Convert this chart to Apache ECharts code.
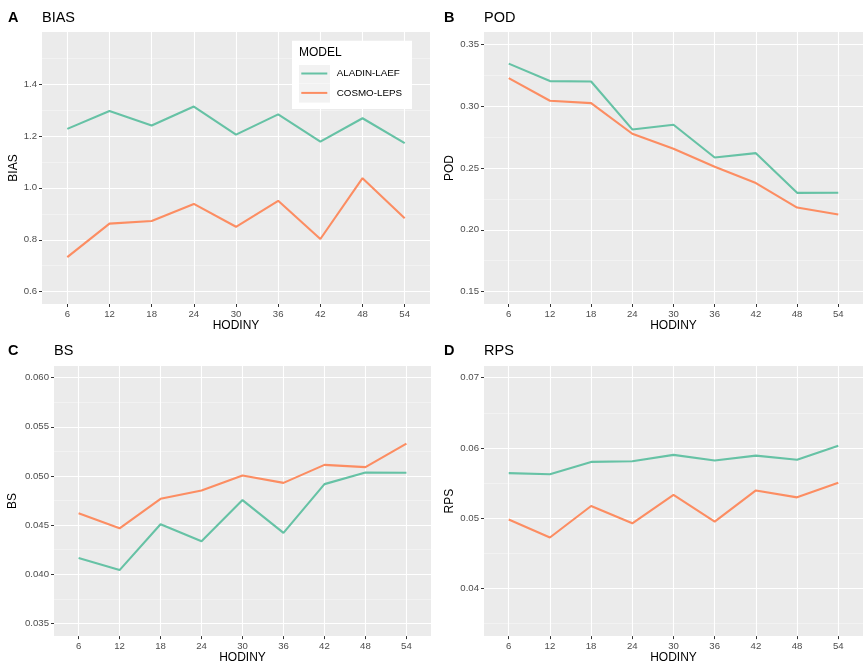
<!DOCTYPE html>
<html><head><meta charset="utf-8">
<script src="https://cdn.jsdelivr.net/npm/echarts@6/dist/echarts.min.js"></script>
<style>html,body{margin:0;padding:0;background:#fff}#c{width:863px;height:665px}</style>
</head><body><div id="c"></div>
<script>
// ---- data ----
const hours = [6, 12, 18, 24, 30, 36, 42, 48, 54];
const models = ['ALADIN-LAEF', 'COSMO-LEPS'];

const biasAladin = [1.227, 1.296, 1.240, 1.313, 1.205, 1.283, 1.178, 1.268, 1.172];
const biasCosmo  = [0.733, 0.862, 0.872, 0.938, 0.850, 0.950, 0.803, 1.037, 0.883];

const podAladin = [0.3344, 0.3203, 0.3200, 0.2812, 0.2850, 0.2585, 0.2620, 0.2299, 0.2300];
const podCosmo  = [0.3227, 0.3044, 0.3025, 0.2777, 0.2655, 0.2510, 0.2378, 0.2180, 0.2124];

const bsAladin = [0.04165, 0.04043, 0.04509, 0.04337, 0.04755, 0.04421, 0.04917, 0.05035, 0.05032];
const bsCosmo  = [0.04620, 0.04468, 0.04768, 0.04853, 0.05005, 0.04930, 0.05113, 0.05090, 0.05329];

const rpsAladin = [0.0564, 0.05625, 0.0580, 0.0581, 0.0590, 0.0582, 0.0589, 0.0583, 0.0603];
const rpsCosmo  = [0.0498, 0.04723, 0.05172, 0.04926, 0.05332, 0.0495, 0.05394, 0.05295, 0.05503];

const biasTicks = [0.6, 0.8, 1.0, 1.2, 1.4];
const biasMinor = [0.7, 0.9, 1.1, 1.3, 1.5];
const podTicks = [0.15, 0.20, 0.25, 0.30, 0.35];
const podMinor = [0.175, 0.225, 0.275, 0.325];
const bsTicks = [0.035, 0.040, 0.045, 0.050, 0.055, 0.060];
const bsMinor = [0.0375, 0.0425, 0.0475, 0.0525, 0.0575];
const rpsTicks = [0.04, 0.05, 0.06, 0.07];
const rpsMinor = [0.035, 0.045, 0.055, 0.065];

// ---- panels ----
const panels = [
  {letter: 'A', name: 'BIAS', a: biasAladin, c: biasCosmo, ticks: biasTicks, minor: biasMinor, dec: 1,
   min: 0.5527, max: 1.6, grid: {left: 42, top: 32, width: 388, height: 272}, nameGap: 22.5},
  {letter: 'B', name: 'POD', a: podAladin, c: podCosmo, ticks: podTicks, minor: podMinor, dec: 2,
   min: 0.14, max: 0.36, grid: {left: 484, top: 32, width: 384, height: 272}, nameGap: 28},
  {letter: 'C', name: 'BS', a: bsAladin, c: bsCosmo, ticks: bsTicks, minor: bsMinor, dec: 3,
   min: 0.03372, max: 0.06118, grid: {left: 54, top: 366, width: 377, height: 271.5}, nameGap: 35.5},
  {letter: 'D', name: 'RPS', a: rpsAladin, c: rpsCosmo, ticks: rpsTicks, minor: rpsMinor, dec: 2,
   min: 0.03319, max: 0.07166, grid: {left: 484, top: 366, width: 384, height: 271.5}, nameGap: 28}
];

const GREEN = '#66C2A5', ORANGE = '#FC8D62';
const FONT = '"Liberation Sans", Arial, sans-serif';

const grid = [], xAxis = [], yAxis = [], series = [], title = [];
panels.forEach((p, i) => {
  grid.push(Object.assign({show: true, backgroundColor: '#EBEBEB', borderWidth: 0}, p.grid));
  xAxis.push({
    type: 'value', gridIndex: i, min: 2.4, max: 57.6,
    name: 'HODINY', nameLocation: 'middle', nameGap: 15,
    nameTextStyle: {fontFamily: FONT, fontSize: 12, color: '#000'},
    axisLine: {show: false},
    axisTick: {show: true, length: 3, customValues: hours, lineStyle: {color: '#333', width: 1}},
    axisLabel: {customValues: hours, color: '#4D4D4D', fontFamily: FONT, fontSize: 9.6, margin: 5},
    splitLine: {show: true, lineStyle: {color: '#FFFFFF', width: 1.1}}
  });
  yAxis.push({
    type: 'value', gridIndex: i, min: p.min, max: p.max,
    name: p.name, nameLocation: 'middle', nameGap: p.nameGap, nameRotate: 90,
    nameTextStyle: {fontFamily: FONT, fontSize: 12, color: '#000'},
    axisLine: {show: false},
    axisTick: {show: true, length: 3, customValues: p.ticks, lineStyle: {color: '#333', width: 1}},
    axisLabel: {customValues: p.ticks, color: '#4D4D4D', fontFamily: FONT, fontSize: 9.6, margin: 5,
      formatter: v => Number(v).toFixed(p.dec)},
    splitLine: {show: true, lineStyle: {color: '#FFFFFF', width: 1.1}}
  });
  yAxis.push({
    type: 'value', gridIndex: i, min: p.min, max: p.max, position: 'left',
    axisLine: {show: false},
    axisTick: {show: false, customValues: p.minor},
    axisLabel: {show: false, customValues: p.minor},
    splitLine: {show: true, lineStyle: {color: '#F7F7F7', width: 0.6}}
  });
  series.push({
    name: models[0], type: 'line', xAxisIndex: i, yAxisIndex: 2 * i, symbol: 'none',
    color: GREEN, lineStyle: {color: GREEN, width: 2.1}, z: 3,
    data: hours.map((h, k) => [h, p.a[k]])
  });
  series.push({
    name: models[1], type: 'line', xAxisIndex: i, yAxisIndex: 2 * i, symbol: 'none',
    color: ORANGE, lineStyle: {color: ORANGE, width: 2.1}, z: 4,
    data: hours.map((h, k) => [h, p.c[k]])
  });
  const lx = p.grid.left > 300 ? 444 : 8;
  const ty = p.grid.top < 100 ? 10.5 : 343;
  title.push({text: p.letter, left: lx, top: ty, padding: 0,
    textStyle: {fontFamily: FONT, fontSize: 14.5, fontWeight: 'bold', color: '#000'}});
  title.push({text: p.name, left: p.grid.left, top: ty, padding: 0,
    textStyle: {fontFamily: FONT, fontSize: 14.5, fontWeight: 'normal', color: '#000'}});
});

const chart = echarts.init(document.getElementById('c'), null, {renderer: 'canvas'});
chart.setOption({
  animation: false,
  backgroundColor: '#FFFFFF',
  title, grid, xAxis, yAxis, series,
  legend: {
    data: models, orient: 'vertical', left: 301.3, top: 66.5, padding: 0, z: 30, zlevel: 0,
    itemWidth: 26, itemHeight: 2.4, itemGap: 5.4,
    icon: 'path://M0,0H26V2H0Z',
    textStyle: {fontFamily: FONT, fontSize: 9.8, color: '#000', lineHeight: 14, padding: [0, 0, 0, 4.4]},
    selectedMode: false
  },
  graphic: [
    {type: 'rect', shape: {x: 292, y: 40.7, width: 120, height: 68.3}, style: {fill: '#FFFFFF'}, z: 5},
    {type: 'rect', shape: {x: 299, y: 65, width: 31, height: 18.6}, style: {fill: '#F2F2F2'}, z: 6},
    {type: 'rect', shape: {x: 299, y: 84, width: 31, height: 18.6}, style: {fill: '#F2F2F2'}, z: 6},
    {type: 'text', x: 299, y: 52.5, z: 7,
     style: {text: 'MODEL', font: '12px ' + FONT, fill: '#000', textVerticalAlign: 'middle'}}
  ]
});
</script></body></html>
